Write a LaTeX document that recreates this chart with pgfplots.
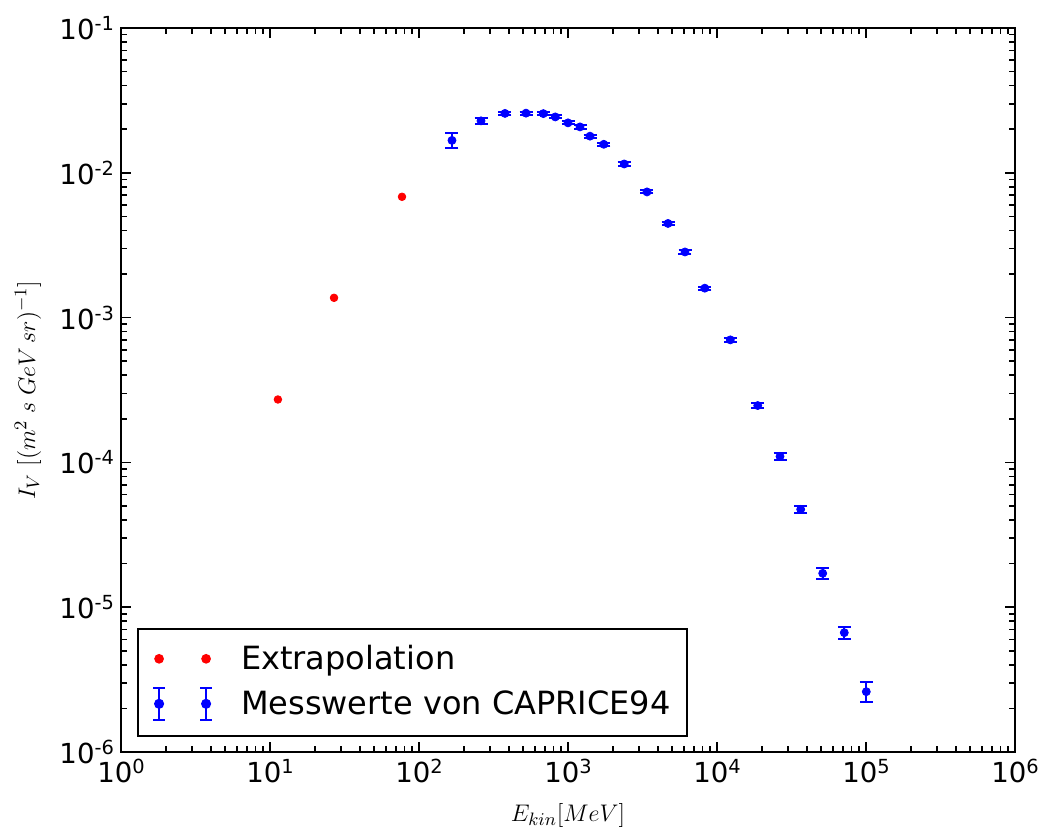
\documentclass[border=0pt]{standalone}
\usepackage{fontspec}
\setmainfont{DejaVu Sans}
\usepackage{pgfplots}
\usepackage{pgfplotstable}
\pgfplotsset{compat=1.18}
\newcommand{\pw}[1]{10\raisebox{4.4pt}{\fontsize{9.7}{10}\selectfont #1}}

\pgfplotstableread{
x y ep em
11.3 0.000272 0 0
26.9 0.00137 0 0
76.9 0.00683 0 0
}\extrap

\pgfplotstableread{
x y ep em
166.5 0.01675 0.0021 0.0020
260.7 0.02285 0.0012 0.0011
377.7 0.02572 0.00064 0.00064
522.6 0.02582 0.00065 0.00065
682.9 0.02564 0.00064 0.00064
821.7 0.02432 0.0006 0.0006
1000 0.02213 0.00055 0.00055
1203.8 0.02075 0.00052 0.00052
1405 0.01791 0.00045 0.00045
1739 0.01574 0.0004 0.0004
2384 0.01151 0.00029 0.00029
3390 0.00738 0.00018 0.00018
4690 0.00447 0.00011 0.00011
6099 0.00284 0.00007 0.00007
8282 0.001597 0.00004 0.00004
12285 0.000702 0.00002 0.00002
18760 0.000247 0.00001 0.00001
26480 0.000110 0.000006 0.000006
36450 0.0000474 0.0000026 0.0000026
51220 0.00001714 0.00000145 0.00000145
71510 0.00000667 0.00000064 0.00000059
100470 0.00000261 0.00000042 0.00000040
}\caprice

\begin{document}
\begin{tikzpicture}
\path[use as bounding box] (-60.5pt,-40pt) rectangle (459.5pt,376pt);
\begin{axis}[
  at={(0pt,0pt)}, anchor=south west,
  scale only axis, width=447pt, height=362pt,
  xmode=log, ymode=log,
  xmin=1, xmax=1e6, ymin=1e-6, ymax=1e-1,
  axis line style={line width=1pt},
  tick align=inside, tick pos=both,
  major tick length=5pt, minor tick length=3pt,
  every tick/.style={black, line width=0.8pt},
  xtick={1,10,100,1000,10000,100000,1000000},
  xticklabels={\pw{0},\pw{1},\pw{2},\pw{3},\pw{4},\pw{5},\pw{6}},
  ytick={1e-6,1e-5,1e-4,1e-3,1e-2,1e-1},
  yticklabels={\pw{-6},\pw{-5},\pw{-4},\pw{-3},\pw{-2},\pw{-1}},
  minor xtick={2,3,4,5,6,7,8,9,20,30,40,50,60,70,80,90,200,300,400,500,600,700,800,900,2000,3000,4000,5000,6000,7000,8000,9000,2e4,3e4,4e4,5e4,6e4,7e4,8e4,9e4,2e5,3e5,4e5,5e5,6e5,7e5,8e5,9e5},
  minor ytick={2e-6,3e-6,4e-6,5e-6,6e-6,7e-6,8e-6,9e-6,2e-5,3e-5,4e-5,5e-5,6e-5,7e-5,8e-5,9e-5,2e-4,3e-4,4e-4,5e-4,6e-4,7e-4,8e-4,9e-4,2e-3,3e-3,4e-3,5e-3,6e-3,7e-3,8e-3,9e-3,2e-2,3e-2,4e-2,5e-2,6e-2,7e-2,8e-2,9e-2},
  tick label style={font=\fontsize{13.8}{16}\selectfont},
  xlabel={$E_{kin}[MeV]$},
  ylabel={$I_V\;[(m^2\;s\;GeV\,sr)^{-1}]$},
  every axis x label/.style={at={(axis description cs:0.5,-0.088)}, anchor=center, font=\fontsize{12.6}{14}\selectfont},
  every axis y label/.style={at={(axis description cs:-0.104,0.5)}, anchor=center, rotate=90, font=\fontsize{13}{14}\selectfont},
  legend style={at={(0.018,0.021)}, anchor=south west, draw=black, line width=1pt,
    inner sep=0pt, column sep=0pt, row sep=0pt,
    nodes={inner sep=0pt, anchor=west},
    font=\fontsize{16}{19}\selectfont},
  legend cell align=left,
]
\addplot[only marks, mark=*, red, mark size=1.9pt,
  legend image code/.code={
    \path[draw=none, fill=none] (-10.5pt,-11pt) rectangle (41pt,15pt);
    \fill[red] (0pt,0pt) circle (1.9pt) (23.5pt,0pt) circle (1.9pt);
  }] table[x=x,y=y] {\extrap};
\addlegendentry{Extrapolation}
\addplot[only marks, mark=*, blue, mark size=2pt,
  error bars/.cd, y dir=both, y explicit,
  error bar style={line width=1pt, blue},
  error mark options={rotate=90, mark size=3.25pt, line width=1pt, blue},
  /pgfplots/legend image code/.code={
    \path[draw=none, fill=none] (-10.5pt,-16pt) rectangle (41pt,11.5pt);
    \draw[blue, line width=0.9pt] (0pt,-8pt)--(0pt,8pt) (-3pt,-8pt)--(3pt,-8pt) (-3pt,8pt)--(3pt,8pt)
      (23.5pt,-8pt)--(23.5pt,8pt) (20.5pt,-8pt)--(26.5pt,-8pt) (20.5pt,8pt)--(26.5pt,8pt);
    \fill[blue] (0pt,0pt) circle (2pt) (23.5pt,0pt) circle (2pt);
  }] table[x=x,y=y,y error plus=ep,y error minus=em] {\caprice};
\addlegendentry{Messwerte von CAPRICE94\hspace*{8pt}\mbox{}}
\end{axis}
\end{tikzpicture}
\end{document}
